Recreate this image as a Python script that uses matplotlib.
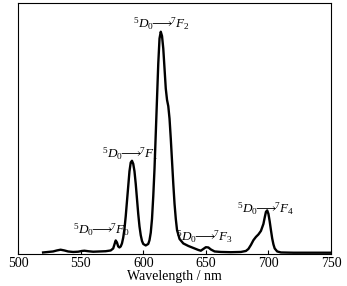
import numpy as np
import matplotlib
matplotlib.use("Agg")
import matplotlib.pyplot as plt

plt.rcParams['font.family'] = ['Liberation Serif', 'DejaVu Serif']
plt.rcParams['mathtext.fontset'] = 'custom'
plt.rcParams['mathtext.rm'] = 'Liberation Serif'
plt.rcParams['mathtext.it'] = 'Liberation Serif:italic'

# emission spectrum (relative intensity)
wavelength = [520, 524, 528, 531, 534, 537, 540, 544, 548, 551, 553, 556, 560, 565, 570,
              574, 576, 577, 578, 579, 580, 581, 582, 583, 584, 585, 586, 587, 588, 589,
              590, 591, 592, 593, 594, 595, 596, 597, 598, 599, 600, 602, 604, 605, 606,
              607, 608, 609, 610, 611, 612, 613, 614, 615, 616, 617, 618, 619, 620, 621,
              622, 623, 624, 625, 626, 627, 629, 632, 636, 640, 644, 646, 648, 650, 652,
              654, 657, 662, 670, 678, 682, 684, 686, 688, 690, 692, 694, 696, 697, 698,
              699, 700, 701, 702, 703, 704, 705, 707, 710, 720, 735, 750]
intensity = [0.006, 0.008, 0.010, 0.014, 0.017, 0.014, 0.010, 0.008, 0.009, 0.012, 0.013, 0.011, 0.009, 0.010, 0.011,
             0.014, 0.022, 0.038, 0.054, 0.046, 0.030, 0.026, 0.030, 0.042, 0.065, 0.100, 0.150, 0.210, 0.270, 0.330,
             0.365, 0.372, 0.360, 0.330, 0.280, 0.220, 0.160, 0.110, 0.075, 0.052, 0.040, 0.034, 0.040, 0.055, 0.085,
             0.140, 0.230, 0.340, 0.480, 0.620, 0.760, 0.860, 0.887, 0.870, 0.820, 0.740, 0.660, 0.615, 0.590, 0.540,
             0.460, 0.370, 0.280, 0.200, 0.140, 0.095, 0.060, 0.042, 0.032, 0.024, 0.016, 0.013, 0.020, 0.027, 0.026,
             0.018, 0.010, 0.008, 0.007, 0.008, 0.012, 0.020, 0.036, 0.055, 0.068, 0.078, 0.092, 0.120, 0.145, 0.168,
             0.174, 0.160, 0.130, 0.095, 0.062, 0.038, 0.022, 0.010, 0.006, 0.005, 0.005, 0.005]

# transition labels: text, x, y (centre)
labels = [r'$^5D_0\!\!\longrightarrow\!\!{^7F_0}$', r'$^5D_0\!\!\longrightarrow\!\!{^7F_1}$',
          r'$^5D_0\!\!\longrightarrow\!\!{^7F_2}$', r'$^5D_0\!\!\longrightarrow\!\!{^7F_3}$',
          r'$^5D_0\!\!\longrightarrow\!\!{^7F_4}$']
label_x = [567, 590, 615, 649, 698]
label_y = [0.097, 0.400, 0.918, 0.068, 0.182]

fig = plt.figure(figsize=(3.47, 2.86), dpi=100)
ax = fig.add_axes([0.052, 0.112, 0.902, 0.876])
ax.plot(wavelength, intensity, color='black', linewidth=1.7)

for txt, lx, ly in zip(labels, label_x, label_y):
    ax.text(lx, ly, txt, ha='center', va='center', fontsize=9.5)

ax.set_xlim(500, 750)
ax.set_ylim(0, 1)
ax.set_xticks([500, 550, 600, 650, 700, 750])
ax.set_yticks([])
ax.tick_params(axis='x', direction='in', length=3, width=0.8, labelsize=10, pad=2)
for s in ax.spines.values():
    s.set_linewidth(0.8)
ax.set_xlabel('Wavelength / nm', fontsize=10, labelpad=0)

fig.savefig('out.png', dpi=100)
